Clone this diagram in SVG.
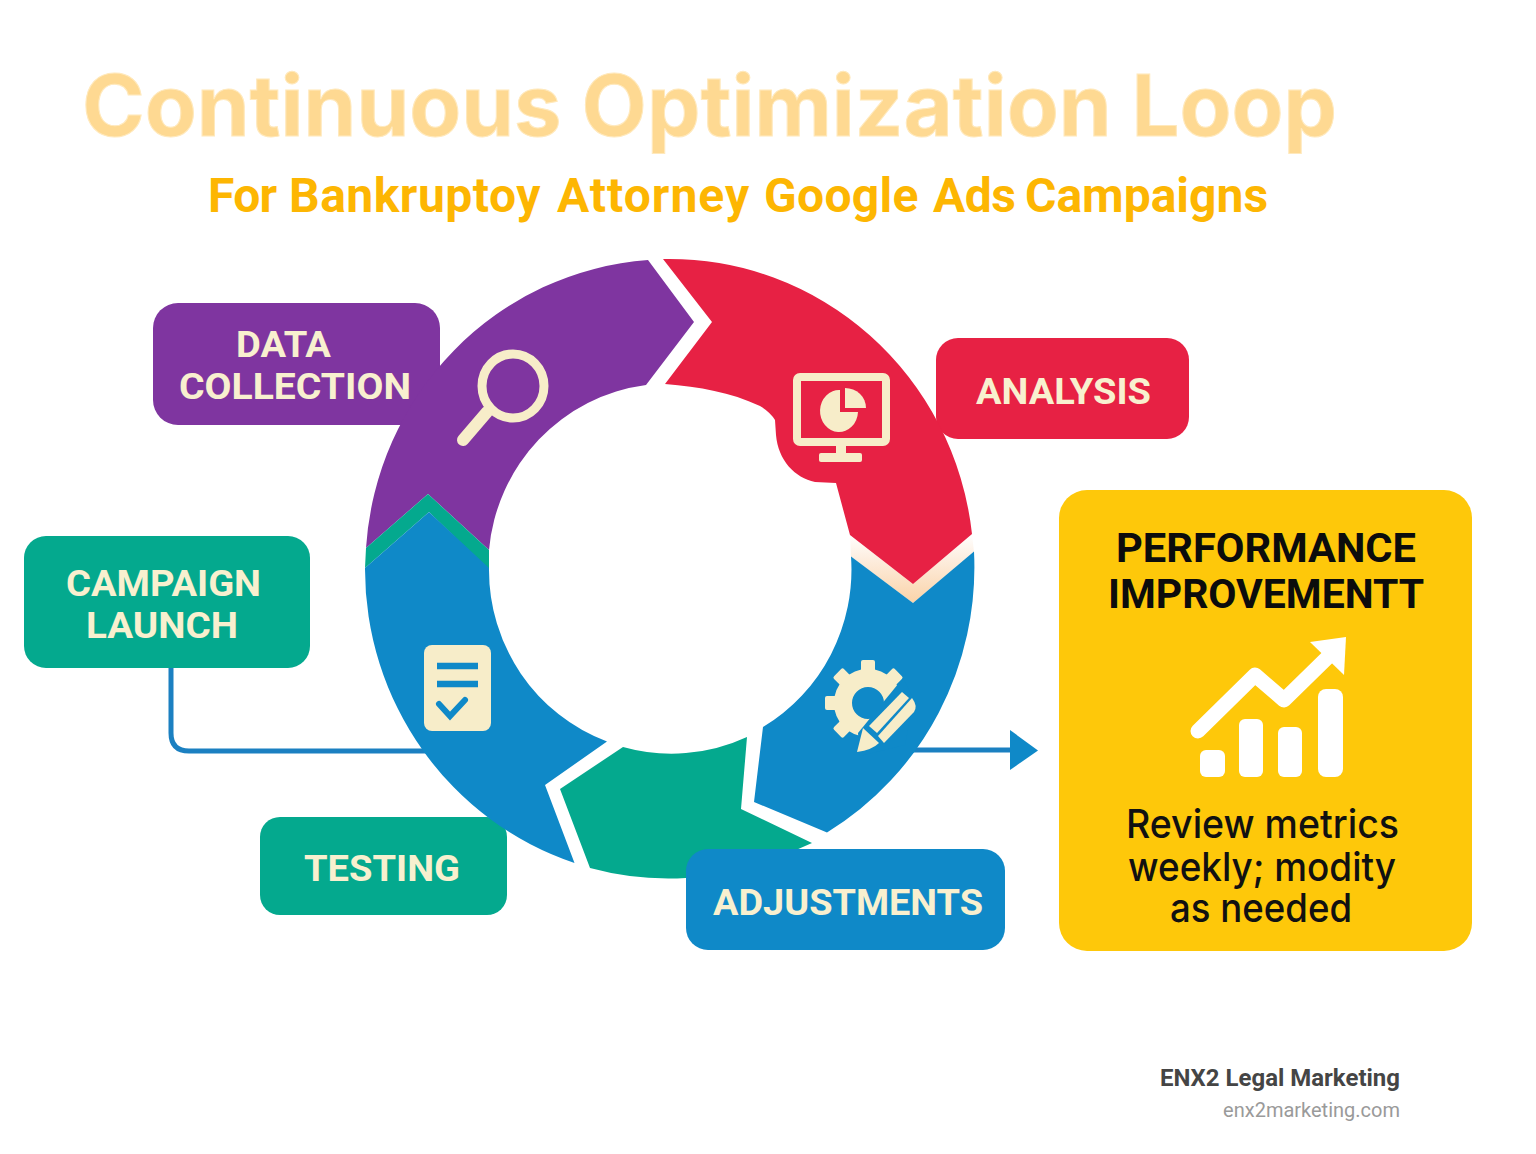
<svg xmlns="http://www.w3.org/2000/svg" width="1536" height="1154" viewBox="0 0 1536 1154">
<defs>
<linearGradient id="peach" x1="0" y1="0" x2="0" y2="1">
<stop offset="0" stop-color="#fff"/><stop offset="0.35" stop-color="#fdeee0"/><stop offset="1" stop-color="#fad3a8"/>
</linearGradient>
</defs>
<style>
text{font-family:"Inter","Liberation Sans",sans-serif}
.rb{font-family:"Roboto","Liberation Sans",sans-serif}
.lab{font-family:"Roboto","Liberation Sans",sans-serif;font-size:37px;font-weight:700;fill:#f8f0cf}
.blk{font-family:"Roboto","Liberation Sans",sans-serif;font-size:41px;font-weight:700;fill:#0c0c0c}
.bod{font-size:39px;font-weight:500;fill:#111}
.ico{fill:#f7edc9}
.icl{fill:none;stroke:#f7edc9}
.pur{fill:#7f35a0}.red{fill:#e72144}.tea{fill:#04a98e}.blu{fill:#0f89c8}
.conn{fill:none;stroke:#1b80c1;stroke-width:5}
</style>
<rect width="1536" height="1154" fill="#fff"/>
<text id="title" x="82" y="136" font-size="85" font-weight="700" fill="#fed992" stroke="#ffe9bd" stroke-width="1" textLength="1255" lengthAdjust="spacingAndGlyphs">Continuous Optimization Loop</text>
<text id="subtitle" class="rb" y="212" font-size="48" font-weight="700" fill="#fdb602"><tspan x="208" style="letter-spacing:-.7px">For </tspan><tspan x="289" style="letter-spacing:.5px">Bankruptoy </tspan><tspan x="557" style="letter-spacing:1px">Attorney </tspan><tspan x="764" style="letter-spacing:.3px">Google </tspan><tspan x="933" style="letter-spacing:-.5px">Ads </tspan><tspan x="1025">Campaigns</tspan></text>

<g id="connectors">
<path class="conn" d="M171 668V733Q171 751 189 751H430"/>
<path class="conn" d="M912 750H1014"/>
<path class="blu" d="M1010 730L1038 750.500L1010 770Z"/>
</g>

<g id="data-collection"><rect class="pur" x="153" y="303" width="287" height="122" rx="25"/>
<text class="lab" x="236" y="357" textLength="95" lengthAdjust="spacingAndGlyphs">DATA</text>
<text class="lab" x="179" y="399" textLength="232" lengthAdjust="spacingAndGlyphs">COLLECTION</text></g>
<g id="analysis"><rect class="red" x="936" y="338" width="253" height="101" rx="22"/>
<text class="lab" x="976" y="404" textLength="175" lengthAdjust="spacingAndGlyphs">ANALYSIS</text></g>
<g id="campaign-launch"><rect class="tea" x="24" y="536" width="286" height="132" rx="22"/>
<text class="lab" x="66" y="596" textLength="195" lengthAdjust="spacingAndGlyphs">CAMPAIGN</text>
<text class="lab" x="86" y="638" textLength="152" lengthAdjust="spacingAndGlyphs">LAUNCH</text></g>
<g id="testing"><rect class="tea" x="260" y="817" width="247" height="98" rx="20"/>
<text class="lab" x="304" y="881" textLength="156" lengthAdjust="spacingAndGlyphs">TESTING</text></g>

<g id="ring">
<path class="pur" d="M648 260L694 322L646 385A181 183 0 0 0 489 550L428 494L366 548A304.500 309.500 0 0 1 648 260Z"/>
<path class="tea" d="M428 494L366 548L365 568L429 512L489 570V550Z"/>
<path class="blu" d="M429 512L365 568A304.500 309.500 0 0 0 574.500 863L545 785L607 741.500A181 183 0 0 1 489 568Z"/>
<path class="tea" d="M623 747A181 183 0 0 0 747 737L741 809L812 843L780 857A304.500 309.500 0 0 1 590 868L560 789Z"/>
<path fill="url(#peach)" d="M850 535L913 584L972 534L974 552L913 603L851 557Z"/>
<path class="blu" d="M851 556.500L913 603L974 551.500A304.500 309.500 0 0 1 827 832.500L754 802L763 727A181 183 0 0 0 851 556.500Z"/>
<path class="red" d="M663 259A304.500 309.500 0 0 1 972 534L913 584L850 535L836 483L815 482C795 478 778 460 776 435L775 420Q770 412 760 406C730 392 700 387 665 384L712 322Z"/>
</g>

<g id="icon-search">
<ellipse class="icl" cx="513" cy="386" rx="31" ry="32" stroke-width="9"/>
<path class="icl" d="M487 412L463 440" stroke-width="12" stroke-linecap="round"/>
</g>
<g id="icon-monitor">
<rect class="icl" x="797" y="377" width="89" height="65" rx="3" stroke-width="8"/>
<rect class="ico" x="836" y="444" width="10" height="12"/>
<rect class="ico" x="819" y="453" width="43" height="9" rx="2"/>
<path class="ico" d="M840 390V412H858A19 21 0 1 1 840 390Z"/>
<path class="ico" d="M845 388A21 20 0 0 1 866 408H845Z"/>
</g>
<g id="icon-doc">
<rect class="ico" x="424" y="645" width="67" height="86" rx="8"/>
<path d="M437 666H478M437 684H478" stroke="#0f89c8" stroke-width="6.500" fill="none"/>
<path d="M439 704L450 716L465 700" stroke="#0f89c8" stroke-width="6" fill="none" stroke-linecap="round"/>
</g>
<g id="icon-gear">
<circle class="icl" cx="868" cy="703" r="25" stroke-width="18"/>
<g class="ico">
<rect x="861" y="660" width="14" height="14" rx="2"/>
<rect x="861" y="660" width="14" height="14" rx="2" transform="rotate(45 868 703)"/>
<rect x="861" y="660" width="14" height="14" rx="2" transform="rotate(-45 868 703)"/>
<rect x="861" y="660" width="14" height="14" rx="2" transform="rotate(-90 868 703)"/>
<rect x="861" y="660" width="14" height="14" rx="2" transform="rotate(-135 868 703)"/>
</g>
<path class="blu" d="M858 733L903 678L914 700L905 745L860 756Z"/>
<path class="ico" d="M902 692L909 698L877 733L869 726Z"/>
<path class="ico" d="M912 698Q918 706 914 712L884 743L878 736Z"/>
<path class="ico" d="M863 728L879 743Q872 750 857 752Z"/>
</g>

<g id="adjustments"><rect class="blu" x="686" y="849" width="319" height="101" rx="22"/>
<text class="lab" x="713" y="915" textLength="270" lengthAdjust="spacingAndGlyphs">ADJUSTMENTS</text></g>

<g id="performance">
<rect x="1059" y="490" width="413" height="461" rx="28" fill="#fec80a"/>
<text class="blk" x="1116" y="562" textLength="300" lengthAdjust="spacingAndGlyphs">PERFORMANCE</text>
<text class="blk" x="1108" y="608" textLength="316" lengthAdjust="spacingAndGlyphs">IMPROVEMENTT</text>
<g fill="#fff">
<rect x="1200" y="750" width="25" height="27" rx="6"/>
<rect x="1239" y="719" width="24" height="58" rx="6"/>
<rect x="1278" y="727" width="24" height="50" rx="6"/>
<rect x="1318" y="689" width="25" height="88" rx="8"/>
<path d="M1310 642L1346 637L1344 675Z"/>
</g>
<path d="M1198 731L1255 675L1284 700L1330 655" fill="none" stroke="#fff" stroke-width="15" stroke-linejoin="round" stroke-linecap="round"/>
<text class="bod" x="1126" y="838" textLength="273" lengthAdjust="spacingAndGlyphs">Review metrics</text>
<text class="bod" x="1128" y="881" textLength="268" lengthAdjust="spacingAndGlyphs">weekly; modity</text>
<text class="bod" x="1170" y="922" textLength="182" lengthAdjust="spacingAndGlyphs">as needed</text>
</g>

<g id="credit">
<text class="rb" x="1160" y="1086" font-size="23" font-weight="700" fill="#454545" textLength="240" lengthAdjust="spacingAndGlyphs">ENX2 Legal Marketing</text>
<text class="rb" x="1400" y="1117" text-anchor="end" font-size="20" fill="#9a9a9a">enx2marketing.com</text>
</g>
</svg>
